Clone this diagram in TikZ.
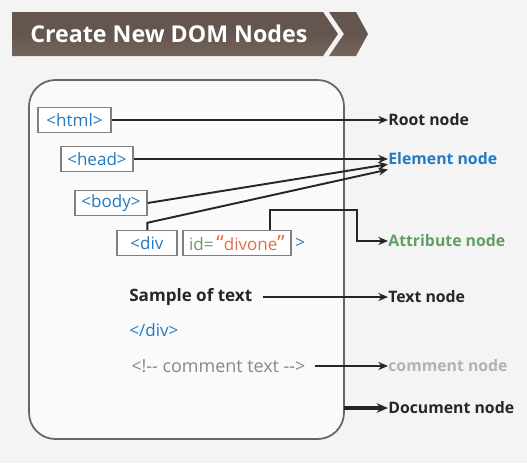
\documentclass[tikz,border=0pt]{standalone}
\usepackage{fontspec}
\setmainfont{Open Sans}
\usetikzlibrary{arrows.meta,positioning}
\definecolor{tagBlue}{RGB}{35,122,192}
\definecolor{attrGreen}{RGB}{98,158,98}
\definecolor{valOrange}{RGB}{226,112,66}
\definecolor{bannerBrown}{RGB}{100,86,78}
\definecolor{bannerLight}{RGB}{116,101,92}
\definecolor{commentGray}{RGB}{135,135,135}
\definecolor{paperGray}{RGB}{244,244,245}

\begin{document}
\begin{tikzpicture}[
  x=0.02cm,
  y=-0.02cm,
  >={Stealth[length=5.5pt,width=4.6pt]},
  every node/.style={font=\fontsize{9.7}{11}\selectfont},
  tagbox/.style={draw=black!50, line width=0.8pt, fill=white, text=tagBlue, minimum height=0.5cm, inner sep=1pt},
  plain/.style={anchor=west, inner sep=0pt},
  label/.style={anchor=west, inner sep=0pt, font=\fontsize{9}{11}\selectfont\bfseries},
  arr/.style={->, line width=1.1pt, draw=black!85},
  docarr/.style={-{Stealth[length=6.5pt,width=5.5pt]}, line width=2pt, draw=black!85}
]
% page and frame
\fill[paperGray] (0,0) rectangle (527,463);
\useasboundingbox (0,0) rectangle (527,463);
\draw[draw=black!60, line width=1pt, fill=black!2, rounded corners=15] (29,80) rectangle (344,439);

% title banner
\shade[top color=bannerBrown, bottom color=bannerLight, middle color=bannerBrown]
  (12,12) -- (323,12) -- (338,34) -- (323,56) -- (12,56) -- cycle;
\shade[top color=bannerBrown, bottom color=bannerLight, middle color=bannerBrown]
  (329,12) -- (356,12) -- (368,34) -- (356,56) -- (329,56) -- (344,34) -- cycle;
\node[anchor=west, inner sep=0pt, text=white, font=\fontsize{13.2}{16}\selectfont\bfseries] (title) at (30,34) {Create New DOM Nodes};

% markup side
\node[tagbox, minimum width=1.46cm] (html) at (74.5,120) {<html>};
\node[tagbox, minimum width=1.44cm] (head) at (97,159) {<head>};
\node[tagbox, minimum width=1.44cm] (body) at (111,203) {<body>};
\node[tagbox, minimum width=1.2cm] (div) at (147,243) {<div};
\node[tagbox, minimum width=2.16cm, text=attrGreen] (attr) at (237,243)
  {id=\,\textcolor{valOrange}{{\large``}divone{\large''}}};
\node[plain, text=tagBlue] (gt) at (295,243) {>};
\node[plain, font=\fontsize{9.7}{11}\selectfont\bfseries, text=black!85] (sample) at (129,297) {Sample of text};
\node[plain, text=tagBlue] (enddiv) at (129,330) {</div>};
\node[plain, text=commentGray, font=\fontsize{10.2}{11}\selectfont] (cmt) at (131,366) {<!-{}- comment text -{}->};

% node kinds
\node[label, text=black!85] (root) at (388,120) {Root node};
\node[label, text=tagBlue] (elem) at (388,159) {Element node};
\node[label, text=attrGreen] (attrnode) at (388,241) {Attribute node};
\node[label, text=black!85] (textnode) at (388,297) {Text node};
\node[label, text=black!30] (cmtnode) at (388,366) {comment node};
\node[label, text=black!85] (docnode) at (388,408) {Document node};

\draw[arr] (html.east) -- (root.west);
\draw[arr] (head.east) -- (elem.west);
\draw[arr] (body.east) -- ([yshift=-3pt]elem.west);
\draw[arr] (div.north west) ++(31,0) -- ++(0,-7) -- ([yshift=-6pt]elem.west);
\draw[arr] (attr.north) ++(33,0) -- ++(0,-20) -| (357,241) -- (attrnode.west);
\draw[arr] (sample.east) ++(10,0) -- (textnode.west);
\draw[arr] (cmt.east) ++(9,0) -- (cmtnode.west);
\draw[docarr] (344,408) -- (docnode.west);
\end{tikzpicture}
\end{document}
